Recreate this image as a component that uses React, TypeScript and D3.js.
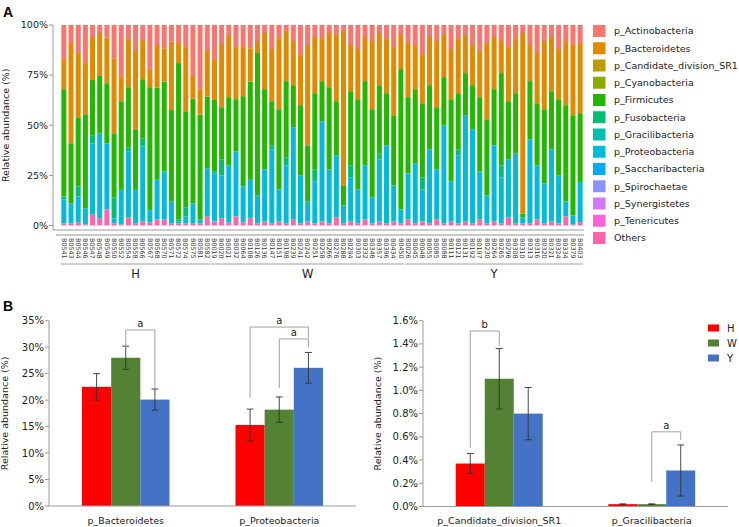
import React from "react";
import * as d3 from "d3";

// ---------- Panel A data ----------
const samplesH = ["B0541","B0543","B0544","B0546","B0547","B0548","B0549","B0550","B0552","B0554","B0558","B0566","B0567","B0568","B0570","B0571","B0572","B0574","B0575","B0581","B0582"];
const samplesW = ["B0019","B0020","B0021","B0032","B0064","B0108","B0126","B0136","B0147","B0151","B0198","B0239","B0241","B0242","B0251","B0258","B0266","B0276","B0288","B0294","B0303","B0332","B0346","B0357","B0396","B0434","B0450"];
const samplesY = ["B0026","B0045","B0048","B0055","B0085","B0088","B0111","B0121","B0131","B0192","B0197","B0230","B0264","B0265","B0296","B0308","B0310","B0313","B0316","B0320","B0321","B0324","B0334","B0379","B0403"];
const groupNames = ["H", "W", "Y"];

const others = [1,1,1.5,0.5,5.6,3.7,8,1,0.5,4,1,2,1.5,3,3,1,1,1,1,1,4.5,
  2,3.6,1.5,4.5,1.5,3.6,1,2,1,2,1,3,1,2,1,2,1,4,1,2,1,3,1,2,1,2,1,
  3,1,2,1,3,1,2,1,2,1,3,1,2,1,4,1,1,1,3,1,2,1,4.5,0.5,1.7];
const proteobacteria = [12,10,13,8.1,35.4,42.3,33,2.6,17.3,33,16.8,37.4,6.3,19.8,24,11,1,3.5,10,2,24.1,
  24,21.4,28.5,32.5,18,19.2,14,26,37,16,29,46,24,10,21,50,27,31,9,22,17,27,13,31,39,18,7,
  23,30,16,37,25,49,20,34,53,47,24,14,38,23,29,35,3,42,27,20,36,24,7.5,4.5,20];
const fusobacteria = [1.5,0,5,0,4,0,0,10.4,0,2,0,4.1,0,0,0,0,1,4.5,0,0,0,
  1,8,0,0,0,0,0,0,2,0,4,0,0,0,6,0,0,0,0,6,0,0,0,3,0,0,0,
  0,0,6,0,0,0,0,3,0,0,0,0,0,6,0,0,0,0,0,0,0,0,0,0,0];
const firmicutes = [53.5,30,34.5,46.9,27.6,28.6,30,32,44.2,30,29.9,29.5,61.2,46,44.8,45.6,78,48,52.3,52.3,35.7,
  35.6,26,34,26,45,49,71,40,22,40,38,21,35,28,38,20,41,27,10,37,45,42,44,34,26,35,70,
  38,37,37,32,31,24,41,28,21,22,37,38,28,46,29,30,2,29,31,37,29,38,48,50,34.3];
const bacteroidetes = [14.5,50,32,25.5,21.4,21.4,22.7,37.4,12,24,39.8,19.5,8.6,21.2,16.6,34.1,10,32,11.3,12.7,23.2,
  19.9,31,31,26,24.5,16.6,6,28,26,35,25,22,25,50,28,21,27,33,77,23,25,22,34,26,27,34,17,
  27,22,24,24,33,21,25,27,19,20,23,38,26,16,27,27,90,18,25,34,27,25,32,35,35];
const actinobacteria = [17.5,9,14,19,6,4,6.3,16.6,26,7,12.5,7.5,22.4,10,11.6,8.3,9,11,25.4,32,12.5,
  17.5,10,5,11,11,11.6,8,4,12,7,3,8,15,10,6,7,4,5,3,10,12,6,8,4,7,11,5,
  9,10,15,6,8,5,12,7,5,10,13,9,6,8,11,7,4,10,14,8,6,12,8,10,9];

const legendPhyla = ["p_Actinobacteria","p_Bacteroidetes","p_Candidate_division_SR1","p_Cyanobacteria","p_Firmicutes","p_Fusobacteria","p_Gracilibacteria","p_Proteobacteria","p_Saccharibacteria","p_Spirochaetae","p_Synergistetes","p_Tenericutes","Others"];
const phylumColors = ["#F8766D","#E18A00","#BE9C00","#8CAB00","#24B700","#00BE70","#00C1AB","#00BBDA","#00ACFC","#8B93FF","#D575FE","#F962DD","#FF65AC"];
const tickA = [0, 0.25, 0.5, 0.75, 1];

// ---------- Panel B data ----------
const groupColors = ["#FF0000", "#548235", "#4472C4"];
const catsLeft = ["p_Bacteroidetes", "p_Proteobacteria"];
const meanLeftH = [0.225, 0.153];
const meanLeftW = [0.280, 0.182];
const meanLeftY = [0.201, 0.261];
const errLeftH = [0.025, 0.030];
const errLeftW = [0.022, 0.024];
const errLeftY = [0.020, 0.029];
const catsRight = ["p_Candidate_division_SR1", "p_Gracilibacteria"];
const meanRightH = [0.0037, 0.0002];
const meanRightW = [0.0110, 0.0002];
const meanRightY = [0.0080, 0.0031];
const errRightH = [0.00087, 0.00003];
const errRightW = [0.0026, 0.00003];
const errRightY = [0.00225, 0.0022];
// brackets: category, from group, to group, top, leftBottom, rightBottom, label
const bracketsLeft = [
  { cat: 0, g1: 1, g2: 2, top: 0.3325, b1: 0.300, b2: 0.223, label: "a" },
  { cat: 1, g1: 0, g2: 2, top: 0.338, b1: 0.204, b2: 0.317, label: "a" },
  { cat: 1, g1: 1, g2: 2, top: 0.3155, b1: 0.223, b2: 0.300, label: "a" },
];
const bracketsRight = [
  { cat: 0, g1: 0, g2: 1, top: 0.01511, b1: 0.00505, b2: 0.01382, label: "b" },
  { cat: 1, g1: 1, g2: 2, top: 0.00643, b1: 0.00212, b2: 0.00574, label: "a" },
];

const FONT = "'DejaVu Sans', Verdana, sans-serif";
const AXIS = "#9a9a9a";

function PanelB(props: any) {
  const { cats, means, errs, brackets, x0, x1, y0, y1, yMax, ticks, fmt, titleX } = props;
  const xb = d3.scaleBand<string>().domain(cats).range([x0, x1]).paddingInner(0.43).paddingOuter(0.215);
  const xg = d3.scaleBand<string>().domain(groupNames).range([0, xb.bandwidth()]);
  const y = d3.scaleLinear().domain([0, yMax]).range([y0, y1]);
  const cx = (c: number, g: number) => (xb(cats[c]) as number) + (xg(groupNames[g]) as number) + xg.bandwidth() / 2;
  return (
    <g>
      <text transform={`translate(${titleX},${(y0 + y1) / 2}) rotate(-90)`} textAnchor="middle" fontSize={9.5} fill="#222">Relative abundance (%)</text>
      {cats.map((c: string, ci: number) =>
        groupNames.map((g, gi) => (
          <rect key={c + g} x={(xb(c) as number) + (xg(g) as number)} width={xg.bandwidth()} y={y(means[gi][ci])} height={y0 - y(means[gi][ci])} fill={groupColors[gi]} />
        ))
      )}
      {cats.map((c: string, ci: number) =>
        groupNames.map((g, gi) => {
          const m = means[gi][ci], e = errs[gi][ci];
          const xc = cx(ci, gi);
          return (
            <g key={"e" + c + g} stroke="#333" strokeWidth={0.9}>
              <line x1={xc} x2={xc} y1={y(m - e)} y2={y(m + e)} />
              <line x1={xc - 3.5} x2={xc + 3.5} y1={y(m - e)} y2={y(m - e)} />
              <line x1={xc - 3.5} x2={xc + 3.5} y1={y(m + e)} y2={y(m + e)} />
            </g>
          );
        })
      )}
      {brackets.map((b: any, i: number) => {
        const xa = cx(b.cat, b.g1), xz = cx(b.cat, b.g2);
        return (
          <g key={"b" + i}>
            <path d={`M${xa},${y(b.b1)}V${y(b.top)}H${xz}V${y(b.b2)}`} fill="none" stroke="#a0a0a0" strokeWidth={1} />
            <text x={(xa + xz) / 2} y={y(b.top) - 3} textAnchor="middle" fontSize={10} fill="#222">{b.label}</text>
          </g>
        );
      })}
      <line x1={x0} x2={x0} y1={y1} y2={y0} stroke={AXIS} />
      <line x1={x0} x2={x1} y1={y0} y2={y0} stroke={AXIS} />
      {ticks.map((t: number) => (
        <g key={"t" + t}>
          <line x1={x0 - 4} x2={x0} y1={y(t)} y2={y(t)} stroke={AXIS} />
          <text x={x0 - 5} y={y(t)} dy="0.35em" textAnchor="end" fontSize={10} fill="#222">{fmt(t)}</text>
        </g>
      ))}
      {cats.map((c: string) => (
        <text key={"c" + c} x={(xb(c) as number) + xb.bandwidth() / 2} y={524} textAnchor="middle" fontSize={9.5} fill="#222">{c}</text>
      ))}
    </g>
  );
}

export default function App() {
  const allSamples = [...samplesH, ...samplesW, ...samplesY];
  const groups = [samplesH, samplesW, samplesY];
  const rows = allSamples.map((s, i) => ({
    sample: s,
    Others: others[i],
    p_Proteobacteria: proteobacteria[i],
    p_Fusobacteria: fusobacteria[i],
    p_Firmicutes: firmicutes[i],
    p_Bacteroidetes: bacteroidetes[i],
    p_Actinobacteria: actinobacteria[i],
  }));
  const keys = ["Others", "p_Proteobacteria", "p_Fusobacteria", "p_Firmicutes", "p_Bacteroidetes", "p_Actinobacteria"];
  const series = d3.stack<any>().keys(keys).offset(d3.stackOffsetExpand)(rows);
  const xA = d3.scaleBand<string>().domain(allSamples).range([61, 583]).paddingInner(0.3).paddingOuter(0.05);
  const yA = d3.scaleLinear().domain([0, 1]).range([225.5, 25]);
  const colorOf = (k: string) => phylumColors[legendPhyla.indexOf(k)];
  const pct = d3.format(".0%");

  return (
    <svg width={739} height={527} style={{ position: "absolute", left: 0, top: 0, background: "#fff" }} fontFamily={FONT}>
      <rect width={739} height={527} fill="#fff" />
      {/* Panel A */}
      <text x={3} y={17} fontSize={14} fontWeight="bold" fontFamily="'Liberation Sans', Arial, sans-serif">A</text>
      <text transform={`translate(9,${(25 + 225.5) / 2}) rotate(-90)`} textAnchor="middle" fontSize={9.5} fill="#222">Relative abundance (%)</text>
      {series.map((s: any) => (
        <g key={s.key} fill={colorOf(s.key)}>
          {s.map((d: any, i: number) => (
            <rect key={i} x={xA(allSamples[i])} width={xA.bandwidth()} y={yA(d[1])} height={Math.max(0, yA(d[0]) - yA(d[1]))} />
          ))}
        </g>
      ))}
      <line x1={53} x2={53} y1={25} y2={230} stroke={AXIS} />
      <line x1={53} x2={584} y1={230} y2={230} stroke={AXIS} />
      <line x1={56} x2={584} y1={235} y2={235} stroke="#c8c8c8" strokeWidth={2} />
      {tickA.map((t) => (
        <g key={"ta" + t}>
          <line x1={49} x2={53} y1={yA(t)} y2={yA(t)} stroke={AXIS} />
          <text x={48} y={yA(t)} dy="0.35em" textAnchor="end" fontSize={9.5} fill="#222">{pct(t)}</text>
        </g>
      ))}
      {allSamples.map((s) => (
        <text key={"l" + s} transform={`translate(${(xA(s) as number) + xA.bandwidth() / 2 - 2.3},238) rotate(90)`} fontSize={6.4} fill="#333">{s}</text>
      ))}
      {groups.map((g, gi) => {
        const gx0 = (xA(g[0]) as number) - 0.5;
        const gx1 = (xA(g[g.length - 1]) as number) + xA.bandwidth() + 0.5;
        return (
          <g key={"g" + gi}>
            <line x1={gx0} x2={gx1} y1={264} y2={264} stroke="#cfcfcf" strokeWidth={2} />
            <text x={(gx0 + gx1) / 2} y={278} textAnchor="middle" fontSize={11.5} fill="#222">{groupNames[gi]}</text>
          </g>
        );
      })}
      {legendPhyla.map((p, i) => (
        <g key={"lg" + p} transform={`translate(593,${31 + i * 17.25})`}>
          <rect x={0} y={-6} width={12.5} height={12} fill={phylumColors[i]} />
          <text x={21} y={0} dy="0.35em" fontSize={9.5} fill="#222">{p}</text>
        </g>
      ))}

      {/* Panel B */}
      <text x={3} y={311} fontSize={14} fontWeight="bold" fontFamily="'Liberation Sans', Arial, sans-serif">B</text>
      <PanelB cats={catsLeft} means={[meanLeftH, meanLeftW, meanLeftY]} errs={[errLeftH, errLeftW, errLeftY]} brackets={bracketsLeft}
        x0={49} x1={356} y0={506} y1={320.7} yMax={0.35} ticks={d3.range(0, 0.351, 0.05)} fmt={d3.format(".0%")} titleX={8} />
      <PanelB cats={catsRight} means={[meanRightH, meanRightW, meanRightY]} errs={[errRightH, errRightW, errRightY]} brackets={bracketsRight}
        x0={423} x1={728} y0={506.5} y1={320.7} yMax={0.016} ticks={d3.range(0, 0.01601, 0.002)} fmt={d3.format(".1%")} titleX={381} />
      {groupNames.map((g, i) => (
        <g key={"bl" + g} transform={`translate(708,${328 + i * 15})`}>
          <rect x={0} y={-3.5} width={11} height={7} fill={groupColors[i]} />
          <text x={19} y={0} dy="0.35em" fontSize={10} fill="#222">{g}</text>
        </g>
      ))}
    </svg>
  );
}
